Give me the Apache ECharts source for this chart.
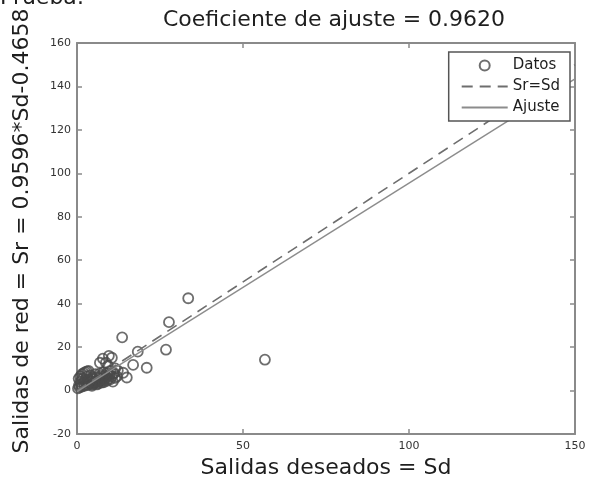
<!DOCTYPE html>
<html>
<head>
<meta charset="utf-8">
<script src="https://cdn.jsdelivr.net/npm/echarts@6/dist/echarts.min.js"></script>
<style>
html,body{margin:0;padding:0;background:#fff;}
#c{width:592px;height:484px;}
</style>
</head>
<body>
<div id="c"></div>
<script>
// Data
var datosSd = [
  0.3,0.6,0.8,1.0,1.2,1.5,1.7,2.0,2.2,2.5,2.8,3.0,3.2,3.4,3.8,4.0,4.2,4.5,4.8,5.0,5.3,5.5,5.8,6.0,6.2,6.5,6.8,7.0,7.2,7.5,7.8,8.0,8.2,8.5,8.8,9.0,9.5,9.8,10.0,10.5,11.0,11.5,
  0.5,1.0,1.5,2.0,2.5,3.0,3.5,4.0,4.5,5.0,5.5,6.0,6.5,7.0,7.5,8.0,9.0,10.0,
  7.8,9.6,8.7,10.5,9.3,6.9,11.5,12.3,10.8,13.9,12.0,11.2,
  13.6,15.0,16.9,18.3,21.0,26.8,27.7,33.5,56.6];
var datosSr = [
  1.0,2.5,1.5,4.0,2.8,1.8,5.5,3.5,2.2,4.8,3.0,6.5,2.5,5.0,3.8,7.0,4.5,2.8,6.0,5.2,3.5,7.5,4.2,6.2,3.2,5.5,7.8,4.5,6.8,3.8,5.8,8.5,4.8,7.0,6.0,8.0,5.5,7.2,9.0,6.5,7.8,5.8,
  5.5,6.5,7.5,8.0,8.5,8.8,9.0,3.2,2.2,3.0,4.0,2.8,4.2,3.5,5.0,3.8,4.5,5.2,
  14.7,16.0,12.8,15.1,11.5,12.8,10.2,9.2,4.1,8.2,6.5,8.0,
  24.5,6.0,11.8,17.9,10.5,18.8,31.5,42.5,14.2];
var idealSd = [0, 150];
var idealSr = [0, 150];
var ajusteSd = [0, 150];
var ajusteSr = [-0.47, 143.47];
var xTicks = [0, 50, 100, 150];
var yTicks = [-20, 0, 20, 40, 60, 80, 100, 120, 140, 160];

var titleText = 'Coeficiente de ajuste = 0.9620';
var xName = 'Salidas deseados = Sd';
var yName = 'Salidas de red = Sr = 0.9596*Sd-0.4658';
var topText = 'Prueba:';

function pairs(a, b) { return a.map(function (v, i) { return [v, b[i]]; }); }

var FONT = 'DejaVu Sans';
var axisCol = '#8a8a8a';
var chart = echarts.init(document.getElementById('c'), null, {renderer: 'canvas'});

function axisCommon(extra) {
  var o = {
    type: 'value',
    axisLine: {show: true, onZero: false, lineStyle: {color: axisCol, width: 2}},
    axisTick: {show: true, inside: true, length: 5, lineStyle: {color: axisCol, width: 1.5}},
    splitLine: {show: false},
    axisLabel: {show: true, fontFamily: FONT, fontSize: 11, color: '#333'}
  };
  for (var k in extra) o[k] = extra[k];
  return o;
}

var noSym = {color: 'rgba(0,0,0,0)', borderColor: 'rgba(0,0,0,0)', borderWidth: 0};

chart.setOption({
  backgroundColor: '#ffffff',
  animation: false,
  textStyle: {fontFamily: FONT},
  title: {
    text: titleText,
    left: 329, top: 4, textAlign: 'center',
    textStyle: {fontFamily: FONT, fontSize: 22, fontWeight: 'normal', color: '#1e1e1e'}
  },
  grid: {left: 77, right: 17, top: 43, bottom: 48, containLabel: false},
  xAxis: [
    axisCommon({min: xTicks[0], max: xTicks[xTicks.length - 1], interval: 50, position: 'bottom',
      axisLabel: {fontFamily: FONT, fontSize: 11, color: '#333', margin: 7},
      name: xName, nameLocation: 'middle', nameGap: 23,
      nameTextStyle: {fontFamily: FONT, fontSize: 22, color: '#1e1e1e'}}),
    axisCommon({min: xTicks[0], max: xTicks[xTicks.length - 1], interval: 50, position: 'top',
      axisLabel: {show: false}})
  ],
  yAxis: [
    axisCommon({min: yTicks[0], max: yTicks[yTicks.length - 1], interval: 20, position: 'left',
      axisLabel: {fontFamily: FONT, fontSize: 11, color: '#333', margin: 6}}),
    axisCommon({min: yTicks[0], max: yTicks[yTicks.length - 1], interval: 20, position: 'right',
      axisLabel: {show: false}})
  ],
  legend: {
    data: ['Datos', 'Sr=Sd', 'Ajuste'],
    orient: 'vertical',
    right: 22, top: 52,
    z: 20, zlevel: 0,
    itemWidth: 46, itemHeight: 10, itemGap: 6,
    padding: [6, 10, 6, 12],
    borderColor: '#555', borderWidth: 1.5,
    backgroundColor: '#ffffff',
    textStyle: {fontFamily: FONT, fontSize: 15, color: '#1e1e1e'}
  },
  graphic: [
    {type: 'text', x: 0, y: -13, style: {text: topText, font: '22px "DejaVu Sans"', fill: '#1e1e1e', verticalAlign: 'top'}},
    {type: 'text', x: 22, y: 231, rotation: Math.PI / 2,
      style: {text: yName, font: '22px "DejaVu Sans"', fill: '#1e1e1e', align: 'center', verticalAlign: 'middle'}}
  ],
  series: [
    {
      name: 'Datos', type: 'scatter', data: pairs(datosSd, datosSr),
      symbol: 'circle', symbolSize: 10,
      itemStyle: {color: 'rgba(0,0,0,0)', borderColor: '#4a4a4a', borderWidth: 1.8},
      z: 2
    },
    {
      name: 'Sr=Sd', type: 'line', data: pairs(idealSd, idealSr),
      showSymbol: false, symbol: 'none',
      itemStyle: noSym,
      lineStyle: {color: '#6e6e6e', width: 1.6, type: [11, 7]},
      z: 3
    },
    {
      name: 'Ajuste', type: 'line', data: pairs(ajusteSd, ajusteSr),
      showSymbol: false, symbol: 'none',
      itemStyle: noSym,
      lineStyle: {color: '#8c8c8c', width: 1.4},
      z: 3
    }
  ]
});
</script>
</body>
</html>
